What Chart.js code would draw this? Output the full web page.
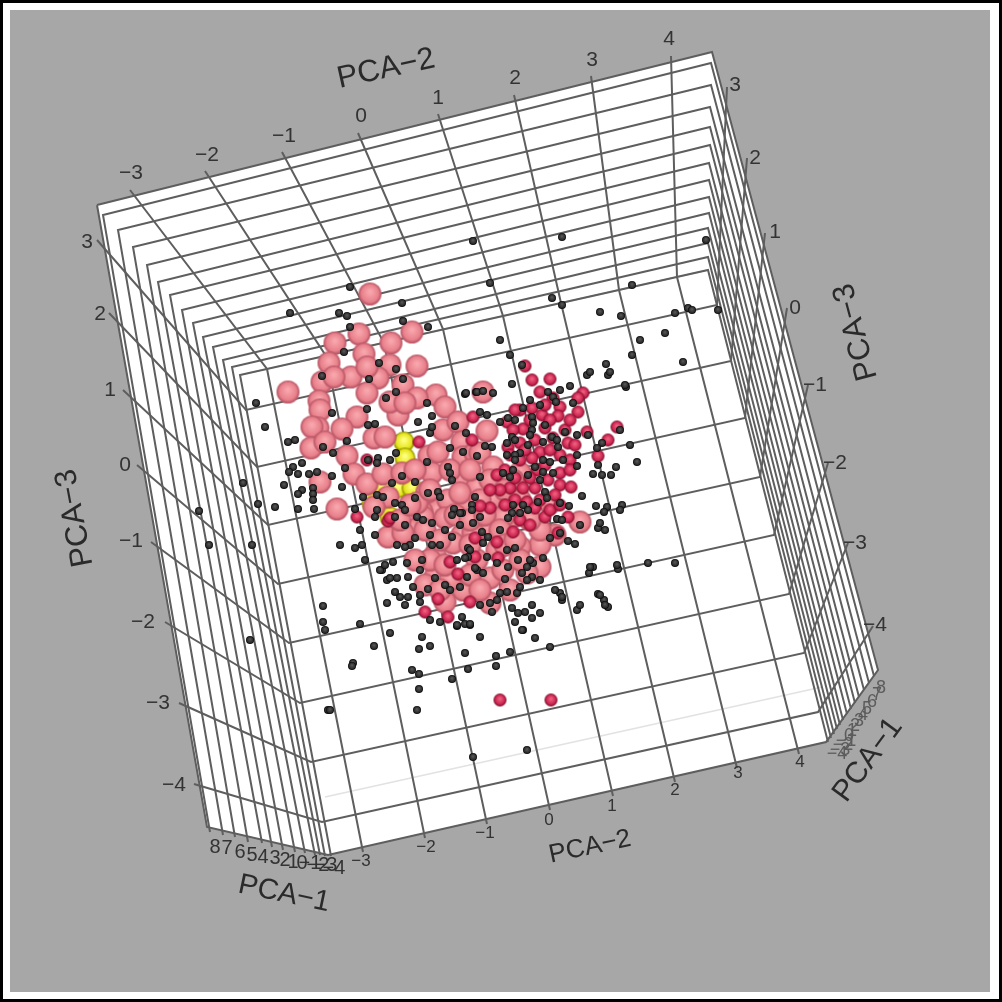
<!DOCTYPE html>
<html>
<head>
<meta charset="utf-8">
<title>PCA 3D</title>
<script src="https://cdn.jsdelivr.net/npm/chart.js@4"></script>
<style>
html, body { margin: 0; padding: 0; background: #fff; }
canvas { display: block; filter: blur(0.6px); }
</style>
</head>
<body>
<canvas id="chart" width="1002" height="1002"></canvas>
<script>
const pinkPoints = [[370,294],[412,332],[359,334],[391,343],[335,343],[364,354],[417,366],[390,365],[329,363],[351,377],[322,382],[334,377],[378,378],[367,367],[367,393],[403,385],[436,395],[288,392],[319,401],[320,410],[357,417],[398,415],[417,398],[445,407],[390,402],[405,403],[342,429],[318,428],[312,427],[311,448],[325,442],[347,456],[374,438],[385,437],[354,474],[320,482],[337,509],[367,484],[383,474],[402,473],[429,456],[432,473],[443,430],[458,422],[462,442],[483,392],[415,470],[438,452],[463,457],[475,453],[462,477],[388,497],[374,507],[437,510],[448,500],[427,492],[467,503],[422,512],[487,431],[480,453],[477,487],[493,498],[488,527],[462,535],[453,543],[435,555],[520,473],[388,537],[580,522],[555,535],[540,545],[540,567],[490,578],[463,590],[445,602],[490,603],[435,577],[503,570],[513,517],[540,530],[423,517],[413,530],[403,533],[445,518],[473,533],[497,550],[520,547],[527,573],[513,480],[503,517],[550,503],[493,467],[460,493],[480,500],[417,503],[430,560],[477,560],
[425,530],[440,540],[455,515],[470,520],[485,515],[500,530],[505,545],[470,575],[450,580],[425,585],[440,590],[480,590],[510,590],[520,560],[400,520],[410,505],[430,490],[450,470],[470,470],[490,480],[505,490],[520,500],[530,520],[515,540],[470,545],[445,565],[415,560]];
const crimsonPoints = [[525,366],[532,380],[550,379],[540,392],[583,393],[578,398],[553,398],[560,407],[578,412],[520,410],[532,408],[542,415],[558,416],[473,417],[507,422],[617,427],[608,440],[598,456],[523,429],[545,428],[565,430],[587,432],[513,430],[568,443],[540,452],[560,455],[532,458],[508,447],[419,442],[472,440],[520,443],[553,438],[505,470],[497,475],[560,473],[537,470],[520,460],[560,485],[571,487],[535,488],[510,488],[523,488],[555,495],[527,502],[515,500],[490,508],[480,506],[545,517],[535,508],[568,517],[558,533],[513,532],[497,542],[475,538],[450,562],[475,557],[498,558],[458,574],[470,602],[438,599],[425,612],[448,617],[388,521],[367,460],[357,517],[390,518],[500,700],[551,700],
[515,410],[530,420],[545,405],[570,420],[550,420],[535,440],[550,450],[575,445],[510,455],[525,450],[545,465],[570,460],[500,490],[515,478],[530,478],[548,480],[505,505],[520,520],[530,525],[540,500],[550,510],[560,505],[490,490],[570,470]];
const yellowPoints = [[404,442],[405,458],[398,488],[412,488],[390,517],[372,503],[383,487]];
const blackPoints = [[350,287],[402,303],[290,313],[339,313],[347,316],[403,321],[428,327],[350,327],[344,352],[379,363],[396,369],[403,379],[369,379],[322,376],[396,392],[386,398],[256,403],[427,403],[465,394],[476,392],[332,413],[432,416],[418,422],[455,426],[466,433],[430,433],[432,427],[367,409],[375,424],[368,425],[265,427],[288,442],[295,440],[323,447],[347,441],[333,453],[450,448],[463,452],[477,456],[396,453],[368,460],[378,458],[390,460],[377,463],[302,463],[293,467],[289,472],[298,474],[309,474],[317,472],[345,468],[332,476],[427,462],[448,467],[450,473],[452,480],[402,476],[415,482],[243,483],[284,485],[342,487],[302,490],[298,494],[313,488],[313,494],[313,500],[392,483],[428,493],[438,492],[258,504],[275,507],[298,509],[314,509],[363,497],[377,495],[383,497],[415,498],[395,503],[377,510],[402,505],[405,510],[355,509],[454,509],[475,497],[472,505],[462,513],[417,517],[375,517],[395,517],
[606,364],[587,375],[608,375],[626,387],[512,384],[570,386],[466,393],[477,392],[483,391],[493,393],[548,392],[560,390],[553,397],[556,402],[573,403],[530,400],[523,408],[540,405],[480,412],[487,415],[500,422],[508,418],[515,420],[532,417],[533,423],[545,425],[552,437],[557,440],[565,432],[577,435],[588,435],[532,430],[530,435],[512,437],[485,446],[492,447],[507,443],[515,440],[520,453],[507,455],[515,455],[515,460],[528,445],[543,442],[558,447],[602,443],[597,448],[577,455],[577,466],[593,474],[602,475],[611,475],[616,467],[563,460],[543,460],[550,462],[535,467],[528,475],[503,473],[513,470],[510,477],[480,477],[553,473],[543,472],[540,480],[545,492],[547,498],[582,496],[569,506],[560,503],[596,506],[607,507],[604,512],[622,505],[513,505],[523,505],[528,510],[538,502],[512,513],[520,513],[508,518],[472,510],[460,513],[452,515],[480,517],[473,523],[440,497],
[557,519],[562,520],[580,525],[598,528],[605,530],[560,533],[550,538],[568,541],[575,544],[593,567],[589,573],[618,569],[560,593],[562,600],[598,594],[604,600],[608,607],[577,610],[540,613],[532,605],[525,612],[518,613],[515,622],[523,630],[512,608],[532,618],[500,593],[507,592],[517,593],[497,600],[490,603],[492,612],[480,605],[462,617],[470,625],[457,626],[440,622],[420,602],[400,597],[408,597],[387,603],[390,633],[422,637],[480,637],[535,638],[382,570],[387,580],[397,578],[408,577],[413,587],[428,589],[393,562],[407,563],[422,560],[435,578],[477,570],[467,577],[460,587],[457,560],[468,557],[483,543],[468,548],[465,558],[487,557],[507,550],[518,560],[527,567],[522,573],[533,563],[543,558],[532,577],[540,580],[527,580],[520,587],[505,579],[497,563],[508,567],[483,573],[475,568],[432,545],[410,545],[405,547],[397,545],[415,538],[430,535],[432,523],[405,525],[423,520],[452,537],[482,532],[488,537],[470,550],[515,548],[530,560],
[473,241],[562,237],[706,240],[490,283],[552,298],[562,305],[632,285],[600,312],[621,316],[675,313],[688,308],[692,310],[718,310],[665,333],[640,340],[632,355],[683,362],[610,372],[590,372],[522,365],[625,385],[500,340],[510,355],
[199,511],[209,545],[252,545],[250,640],[323,606],[323,622],[325,630],[353,663],[328,710],[417,710],[473,757],[527,750],[675,563],[648,563],[617,565],[590,567],[600,595],[605,605],[562,597],[580,605],[555,590],[637,462],[598,465],[620,510],[600,523],[630,445],[620,430],
[360,624],[374,646],[419,649],[430,646],[352,666],[465,653],[496,656],[510,652],[496,666],[468,669],[412,670],[419,674],[452,679],[419,689],[522,630],[457,625],[465,624],[470,624],[330,710],[550,647],
[355,548],[362,545],[340,545],[365,560],[380,570],[390,578],[395,592],[405,605],[420,595],[430,620],[385,565],[375,535],[360,530],
[445,530],[460,525],[440,545],[420,570],[450,590],[445,585],[500,530]];

// PCA-2 grid lines: tick on top wall, bend at the back wall, tick at the bottom
const pca2TopTicks = [[130,190],[205,171],[282,152],[358,133],[438,114],[514,95],[591,76],[671,56]];
const pca2Bends = [[267,369],[326,356],[384,343],[443,329],[503,316],[561,303],[619,290],[677,277]];
const pca2BottomTicks = [[363,852],[425,838],[487,824],[550,810],[613,796],[675,782],[737,768],[799,754]];

// PCA-3 grid lines: left tick, left bend, right bend, right tick
const pca3LeftTicks = [[97,240],[109,313],[123,390],[137,465],[151,542],[165,622],[179,703],[194,784]];
const pca3LeftBends = [[246,410],[257,467],[268,525],[278,584],[289,643],[300,703],[311,762],[322,822]];
const pca3RightBends = [[717,305],[731,361],[745,418],[760,477],[774,535],[789,594],[804,653],[818,712]];
const pca3RightTicks = [[727,87],[747,158],[765,233],[787,308],[808,385],[828,463],[848,543],[873,626]];

// PCA-1 grid lines: left wall bottom, top wall left, top wall right, right wall bottom
const pca1LeftBottom = [[210,832],[223,835],[235,837],[248,842],[262,843],[272,847],[283,850],[295,852],[305,853],[315,855],[320,855],[325,856],[331,856]];
const pca1TopLeft = [[103,215],[118,230],[133,247],[147,265],[158,282],[170,295],[182,310],[193,323],[203,337],[213,347],[223,360],[232,367],[240,375]];
const pca1TopRight = [[711,63],[711,85],[710,107],[710,127],[710,145],[709,163],[709,180],[709,197],[709,213],[708,228],[708,243],[708,257],[708,270]];
const pca1RightBottom = [[874,676],[869,683],[864,690],[859,697],[855,703],[851,709],[847,714],[843,720],[840,725],[837,729],[834,734],[831,738],[828,742]];

const boxOutline = [[97,205],[712,52],[878,670],[826,742],[328,855],[207,827]];
const backEdgeTop = [[240,375],[708,270]];
const backEdgeFaint = [[325,797],[822,687]];

const pca2Labels = ['\u22123','\u22122','\u22121','0','1','2','3','4'];
const pca3Labels = ['3','2','1','0','\u22121','\u22122','\u22123','\u22124'];
const pca1Labels = ['8','7','6','5','4','3','2','1','0','\u22121','\u22122','\u22123','\u22124'];

const pca2TopLabelPos = [[131,173],[207,155],[284,136],[361,116],[438,98],[515,78],[592,60],[669,39]];
const pca2BottomLabelPos = [[361,861],[426,847],[485,833],[549,820],[612,806],[675,790],[738,773],[800,762]];
const pca3LeftLabelPos = [[87,242],[100,314],[110,390],[125,465],[131,541],[143,622],[158,703],[174,785]];
const pca3RightLabelPos = [[735,85],[755,158],[775,232],[795,308],[815,385],[835,463],[855,543],[875,625]];
const pca1LeftLabelPos = [[215,847],[227,848],[240,852],[252,855],[263,857],[275,858],[285,860],[293,862],[302,863],[310,863],[318,865],[326,865],[334,868]];
const pca1RightLabelPos = [[881,688],[877,695],[872,702],[867,709],[863,715],[859,721],[855,726],[852,731],[849,736],[846,741],[843,745],[840,750],[837,754]];

const axisTitles = [
    { text: 'PCA\u22122', x: 386, y: 69, angle: -12.4, size: 31 },
    { text: 'PCA\u22123', x: 75, y: 518, angle: -100.6, size: 31 },
    { text: 'PCA\u22123', x: 856, y: 332, angle: -105, size: 31 },
    { text: 'PCA\u22121', x: 284, y: 894, angle: 11.8, size: 29 },
    { text: 'PCA\u22122', x: 590, y: 847, angle: -12, size: 26 },
    { text: 'PCA\u22121', x: 868, y: 760, angle: -53.7, size: 30 }
];

function toXY(list) {
    return list.map(p => ({ x: p[0], y: p[1] }));
}

// polylines joined with NaN gaps, the line dataset breaks there
function joinLines(...lists) {
    const out = [];
    lists[0].forEach((_, i) => {
        lists.forEach(l => out.push({ x: l[i][0], y: l[i][1] }));
        out.push({ x: NaN, y: NaN });
    });
    return out;
}

function makeSphere(r, edge, body, light) {
    const c = document.createElement('canvas');
    c.width = c.height = Math.ceil(r * 2) + 2;
    const g = c.getContext('2d');
    const m = c.width / 2;
    const grad = g.createRadialGradient(m, m - r * 0.2, r * 0.1, m, m, r);
    grad.addColorStop(0, light);
    grad.addColorStop(0.72, body);
    grad.addColorStop(0.92, edge);
    grad.addColorStop(1, edge);
    g.fillStyle = grad;
    g.beginPath();
    g.arc(m, m, r, 0, Math.PI * 2);
    g.fill();
    return c;
}

const pinkSprite = makeSphere(11.5, '#bd5a69', '#e8808b', '#f8a6ac');
const crimsonSprite = makeSphere(6.5, '#7c0c2a', '#c9224c', '#ee5f80');
const yellowSprite = makeSphere(10.5, '#9a9a00', '#e4e41c', '#ffff80');
const blackSprite = makeSphere(4, '#0c0c0c', '#2a2a2a', '#555555');

function spheres(list, sprite) {
    return { type: 'scatter', data: toXY(list), pointStyle: sprite, pointRadius: 4, showLine: false };
}

function gridLine(data, color, width) {
    return { type: 'line', data: data, borderColor: color, borderWidth: width, pointRadius: 0, fill: false, tension: 0, spanGaps: false };
}

const backdropPlugin = {
    id: 'backdrop',
    beforeDraw(chart) {
        const c = chart.ctx;
        c.save();
        c.fillStyle = '#ffffff';
        c.fillRect(0, 0, 1002, 1002);
        c.strokeStyle = '#000000';
        c.lineWidth = 3;
        c.strokeRect(1.5, 1.5, 999, 999);
        c.fillStyle = '#a7a7a7';
        c.fillRect(10, 10, 980, 982);
        c.restore();
    }
};

const textPlugin = {
    id: 'boxText',
    afterDraw(chart) {
        const c = chart.ctx, sx = chart.scales.x, sy = chart.scales.y;
        c.save();
        c.textAlign = 'center';
        c.textBaseline = 'middle';
        c.fillStyle = '#333333';
        function put(labels, pos, size) {
            c.font = size + 'px "Liberation Sans"';
            labels.forEach((t, i) => {
                c.fillText(t, sx.getPixelForValue(pos[i][0]), sy.getPixelForValue(pos[i][1]));
            });
        }
        put(pca2Labels, pca2TopLabelPos, 21);
        put(pca3Labels, pca3LeftLabelPos, 21);
        put(pca3Labels, pca3RightLabelPos, 21);
        put(pca2Labels, pca2BottomLabelPos, 17);
        put(pca1Labels, pca1LeftLabelPos, 20);
        c.fillStyle = '#5c5c5c';
        put(pca1Labels, pca1RightLabelPos, 18);
        c.fillStyle = '#2a2a2a';
        axisTitles.forEach(t => {
            c.save();
            c.translate(sx.getPixelForValue(t.x), sy.getPixelForValue(t.y));
            c.rotate(t.angle * Math.PI / 180);
            c.font = t.size + 'px "Liberation Sans"';
            c.fillText(t.text, 0, 0);
            c.restore();
        });
        c.restore();
    }
};

new Chart(document.getElementById('chart'), {
    data: {
        datasets: [
            spheres(blackPoints, blackSprite),
            spheres(crimsonPoints, crimsonSprite),
            spheres(pinkPoints, pinkSprite),
            spheres(yellowPoints, yellowSprite),
            gridLine(joinLines(pca2TopTicks, pca2Bends, pca2BottomTicks), '#5e5e5e', 2),
            gridLine(joinLines(pca3LeftTicks, pca3LeftBends, pca3RightBends, pca3RightTicks), '#5e5e5e', 2),
            gridLine(joinLines(pca1LeftBottom, pca1TopLeft, pca1TopRight, pca1RightBottom), '#5e5e5e', 2),
            gridLine(toXY(backEdgeTop), '#cfcfcf', 1.5),
            gridLine(toXY(backEdgeFaint), '#e2e2e2', 1.5),
            {
                type: 'line',
                data: toXY(boxOutline.concat([boxOutline[0]])),
                borderColor: '#5e5e5e',
                borderWidth: 2,
                backgroundColor: '#ffffff',
                fill: 'shape',
                pointRadius: 0,
                tension: 0
            }
        ]
    },
    options: {
        responsive: false,
        animation: false,
        events: [],
        layout: { padding: 0, autoPadding: false },
        plugins: { legend: { display: false }, tooltip: { enabled: false } },
        scales: {
            x: { type: 'linear', min: 0, max: 1002, display: false },
            y: { type: 'linear', min: 0, max: 1002, reverse: true, display: false }
        }
    },
    plugins: [backdropPlugin, textPlugin]
});
</script>
</body>
</html>
